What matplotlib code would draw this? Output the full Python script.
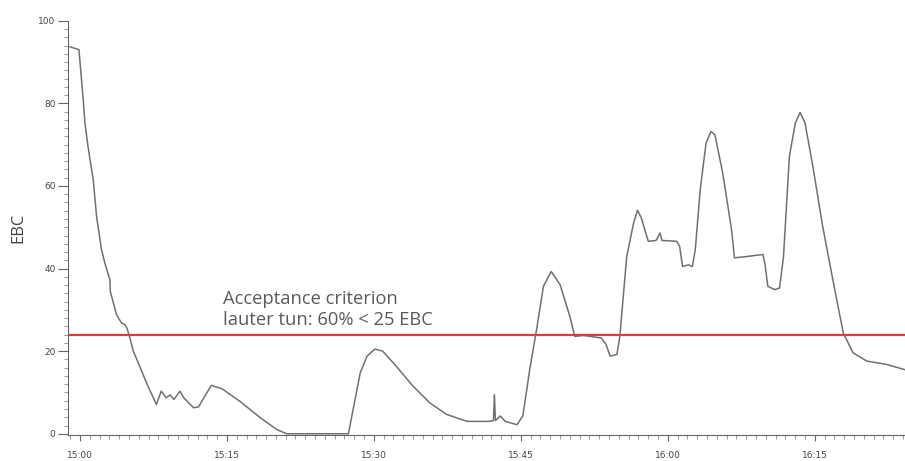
import numpy as np
import matplotlib
matplotlib.use('Agg')
import matplotlib.pyplot as plt
from matplotlib.ticker import MultipleLocator

minutes = [-1.0, -0.5, -0.1, 0.34, 0.51, 0.85, 1.36, 1.7, 2.2, 2.55, 2.9, 3.06, 3.1, 3.74,
           4.25, 4.6, 4.8, 5.1, 5.44, 5.95, 6.8, 7.8, 8.3, 8.8, 9.2, 9.6, 10.2, 10.6,
           11.6, 12.1, 13.4, 14.5, 16.3, 18.4, 20.1, 21.1,
           27.4, 28.6, 29.3, 30.1, 30.9, 32.3, 34.0, 35.7, 37.4, 39.5, 41.8, 42.2, 42.3, 42.4,
           42.9, 43.4, 44.6, 45.2, 45.9, 46.6, 47.3, 48.1, 49.0, 50.0, 50.5, 51.4, 52.3,
           53.2, 53.7, 54.1, 54.8, 55.1, 55.8, 56.5, 56.9, 57.3, 58.0, 58.8, 59.2, 59.4,
           60.9, 61.2, 61.5, 62.1, 62.5, 62.8, 63.3, 63.9, 64.4, 64.8, 65.6, 66.5, 66.8,
           68.0, 69.0, 69.7, 69.9, 70.2, 70.9, 71.4, 71.8, 72.4, 73.0, 73.5, 74.0, 74.8,
           75.8, 76.9, 77.9, 78.9, 80.3, 82.3, 84.2]
ebc = [93.7, 93.3, 93.0, 80.8, 75.2, 69.1, 61.5, 52.6, 44.6, 41.3, 38.5, 37.3, 34.5, 28.8,
       26.8, 26.4, 25.6, 23.2, 20.0, 17.2, 12.3, 7.1, 10.3, 8.7, 9.4, 8.3, 10.3, 8.7,
       6.3, 6.5, 11.7, 10.9, 7.9, 3.9, 1.0, 0.0,
       0.0, 14.7, 18.8, 20.5, 20.0, 16.3, 11.5, 7.5, 4.7, 3.0, 3.0, 3.2, 9.5, 3.2,
       4.3, 3.0, 2.2, 4.3, 15.5, 25.2, 35.7, 39.3, 36.1, 28.4, 23.6, 23.8, 23.5,
       23.2, 21.6, 18.8, 19.2, 23.6, 42.9, 51.0, 54.1, 52.2, 46.6, 46.8, 48.6, 46.8,
       46.6, 45.4, 40.5, 40.9, 40.5, 44.6, 59.1, 70.4, 73.2, 72.4, 63.1, 49.4, 42.6,
       42.9, 43.2, 43.4, 41.3, 35.7, 34.9, 35.3, 42.9, 67.1, 75.2, 77.8, 75.2, 64.7,
       50.2, 36.5, 24.4, 19.6, 17.6, 16.8, 15.5]

limit = 24
note_lines = ['Acceptance criterion', 'lauter tun: 60% < 25 EBC']
time_ticks = [0, 15, 30, 45, 60, 75]
time_labels = ['15:00', '15:15', '15:30', '15:45', '16:00', '16:15']
ebc_ticks = [0, 20, 40, 60, 80, 100]

fig = plt.figure(figsize=(9.05, 4.61), dpi=100)
ax = fig.add_axes([0.0751, 0.0564, 0.9249, 0.8986])

ax.plot(minutes, ebc, color='#707070', lw=1.1)
ax.axhline(limit, color='#e03a3a', lw=1.6)

# two lines of the note, placed by baseline
ax.text(14.56, 31.5, note_lines[0], fontsize=13.2, color='#5a5a5a',
        family='Open Sans', va='baseline', ha='left')
ax.text(14.56, 26.4, note_lines[1], fontsize=13.2, color='#5a5a5a',
        family='Open Sans', va='baseline', ha='left')

ax.set_xlim(-1.22, 84.2)
ax.set_ylim(-0.3, 100)
ax.set_xticks(time_ticks)
ax.set_xticklabels(time_labels)
ax.set_yticks(ebc_ticks)
ax.xaxis.set_minor_locator(MultipleLocator(1))
ax.yaxis.set_minor_locator(MultipleLocator(2))
ax.tick_params(which='major', width=0.8, color='#666666',
               labelsize=6.5, labelcolor='#444444')
ax.tick_params(axis='x', which='major', length=4.5, pad=7)
ax.tick_params(axis='y', which='major', length=7, pad=2)
ax.tick_params(which='minor', length=3, width=0.6, color='#888888')

for side in ['top', 'right']:
    ax.spines[side].set_visible(False)
for side in ['left', 'bottom']:
    ax.spines[side].set_color('#666666')
    ax.spines[side].set_linewidth(0.8)

ax.set_ylabel('EBC', fontsize=12, color='#444444', family='Open Sans')
ax.yaxis.set_label_coords(-0.0495, 0.5)

fig.savefig('out.png', dpi=100)
